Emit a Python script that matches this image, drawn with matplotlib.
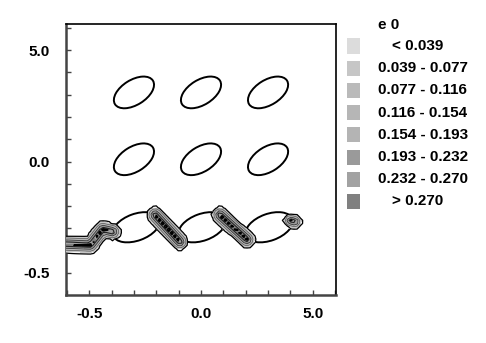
import numpy as np
import matplotlib
matplotlib.use("Agg")
import matplotlib.pyplot as plt
from matplotlib.patches import Ellipse, Rectangle
from matplotlib.ticker import FixedLocator, FixedFormatter, MultipleLocator

plt.rcParams['font.family'] = ['Liberation Sans', 'DejaVu Sans']
plt.rcParams['font.weight'] = 'bold'

# ---- data ----
ell_x = [-3.0, 0.0, 3.0, -3.0, 0.0, 3.0, -2.9, 0.05, 3.05]
ell_y = [3.1, 3.1, 3.1, 0.1, 0.1, 0.1, -2.95, -2.95, -2.95]
ell_w = [2.0, 2.0, 2.0, 2.0, 2.0, 2.0, 2.2, 2.2, 2.2]
ell_h = [1.12, 1.12, 1.12, 1.12, 1.12, 1.12, 1.2, 1.2, 1.2]
ell_ang = [32, 32, 32, 32, 32, 32, 20, 20, 20]

band_paths = [
    [(-6.2, -3.7), (-4.95, -3.75), (-4.4, -3.05), (-3.95, -3.15)],
    [(-2.05, -2.4), (-0.95, -3.6)],
    [(0.85, -2.4), (2.05, -3.5)],
    [(4.0, -2.65), (4.2, -2.7)],
]
band_peak = [0.32, 0.33, 0.33, 0.31]
band_halfwidth = [0.36, 0.36, 0.36, 0.3]

xtick_pos = [-5, 0, 5]
xtick_labels = ["-0.5", "0.0", "5.0"]
ytick_pos = [5, 0, -5]
ytick_labels = ["5.0", "0.0", "-0.5"]

legend_title = "e 0"
legend_labels = ["< 0.039", "0.039 - 0.077", "0.077 - 0.116", "0.116 - 0.154",
                 "0.154 - 0.193", "0.193 - 0.232", "0.232 - 0.270", "> 0.270"]
legend_colors = ["#dcdcdc", "#c6c6c6", "#bababa", "#b6b6b6",
                 "#b4b4b4", "#9a9a9a", "#a2a2a2", "#808080"]
levels = [0.012, 0.039, 0.077, 0.116, 0.154, 0.193, 0.232, 0.270, 1.0]

# ---- figure ----
W, H = 486, 343
fig = plt.figure(figsize=(W / 100, H / 100), dpi=100)
ax = fig.add_axes([66 / W, 1 - 295 / H, 270 / W, 271 / H])
ax.set_xlim(-6.04, 6.04)
ax.set_ylim(-5.99, 6.17)

for x, y, w, h, a in zip(ell_x, ell_y, ell_w, ell_h, ell_ang):
    ax.add_patch(Ellipse((x, y), w, h, angle=a, fill=False, ec='black', lw=1.4, zorder=2))

# band field on a coarse grid (gives the stair-stepped look)
gx = np.arange(-6.2, 6.2, 0.14)
gy = np.arange(-4.6, -1.6, 0.14)
X, Y = np.meshgrid(gx, gy)
E = np.zeros_like(X)
for path, pk, hw in zip(band_paths, band_peak, band_halfwidth):
    for (x0, y0), (x1, y1) in zip(path[:-1], path[1:]):
        dx, dy = x1 - x0, y1 - y0
        L2 = dx * dx + dy * dy
        t = np.clip(((X - x0) * dx + (Y - y0) * dy) / L2, 0, 1)
        d = np.hypot(X - (x0 + t * dx), Y - (y0 + t * dy))
        E = np.maximum(E, pk * np.clip(1 - d / hw, 0, 1))

fill_colors = ["#f2f2f2"] + legend_colors[1:]
ax.contourf(X, Y, E, levels=levels, colors=fill_colors, zorder=3)
ax.contour(X, Y, E, levels=[0.012], colors='black', linewidths=0.9, zorder=4)
ax.contour(X, Y, E, levels=[0.077, 0.154, 0.232, 0.285],
           colors=['#555555', '#333333', '#222222', 'black'],
           linewidths=[0.5, 0.6, 0.8, 1.2], zorder=4)

# axes styling
for s in ['left', 'bottom']:
    ax.spines[s].set_linewidth(1.8)
    ax.spines[s].set_color('#444444')
for s in ['top', 'right']:
    ax.spines[s].set_linewidth(1.2)
    ax.spines[s].set_color('black')

ax.xaxis.set_major_locator(FixedLocator(xtick_pos))
ax.xaxis.set_major_formatter(FixedFormatter(xtick_labels))
ax.yaxis.set_major_locator(FixedLocator(ytick_pos))
ax.yaxis.set_major_formatter(FixedFormatter(ytick_labels))
ax.xaxis.set_minor_locator(MultipleLocator(1))
ax.yaxis.set_minor_locator(MultipleLocator(1))
ax.tick_params(which='both', direction='in', length=3.5, width=1, color='#444444',
               top=False, right=False)
ax.tick_params(axis='y', which='major', pad=11.5, labelsize=11)
ax.tick_params(axis='x', which='major', pad=9.0, labelsize=11)
for lab in ax.get_xticklabels() + ax.get_yticklabels():
    lab.set_fontweight('bold')

# legend
fig.text(378 / W, 1 - 25 / H, legend_title, ha='left', va='center', fontsize=11, fontweight='bold')
for i, (lab, col) in enumerate(zip(legend_labels, legend_colors)):
    yc = 46 + i * 22.2
    fig.patches.append(Rectangle((347 / W, 1 - (yc + 7.5) / H), 13 / W, 15 / H,
                                 transform=fig.transFigure, fc=col, ec='none'))
    xt = 392 if lab.startswith(('<', '>')) else 378
    fig.text(xt / W, 1 - yc / H, lab, ha='left', va='center', fontsize=11, fontweight='bold')

fig.savefig("out.png", dpi=100)
